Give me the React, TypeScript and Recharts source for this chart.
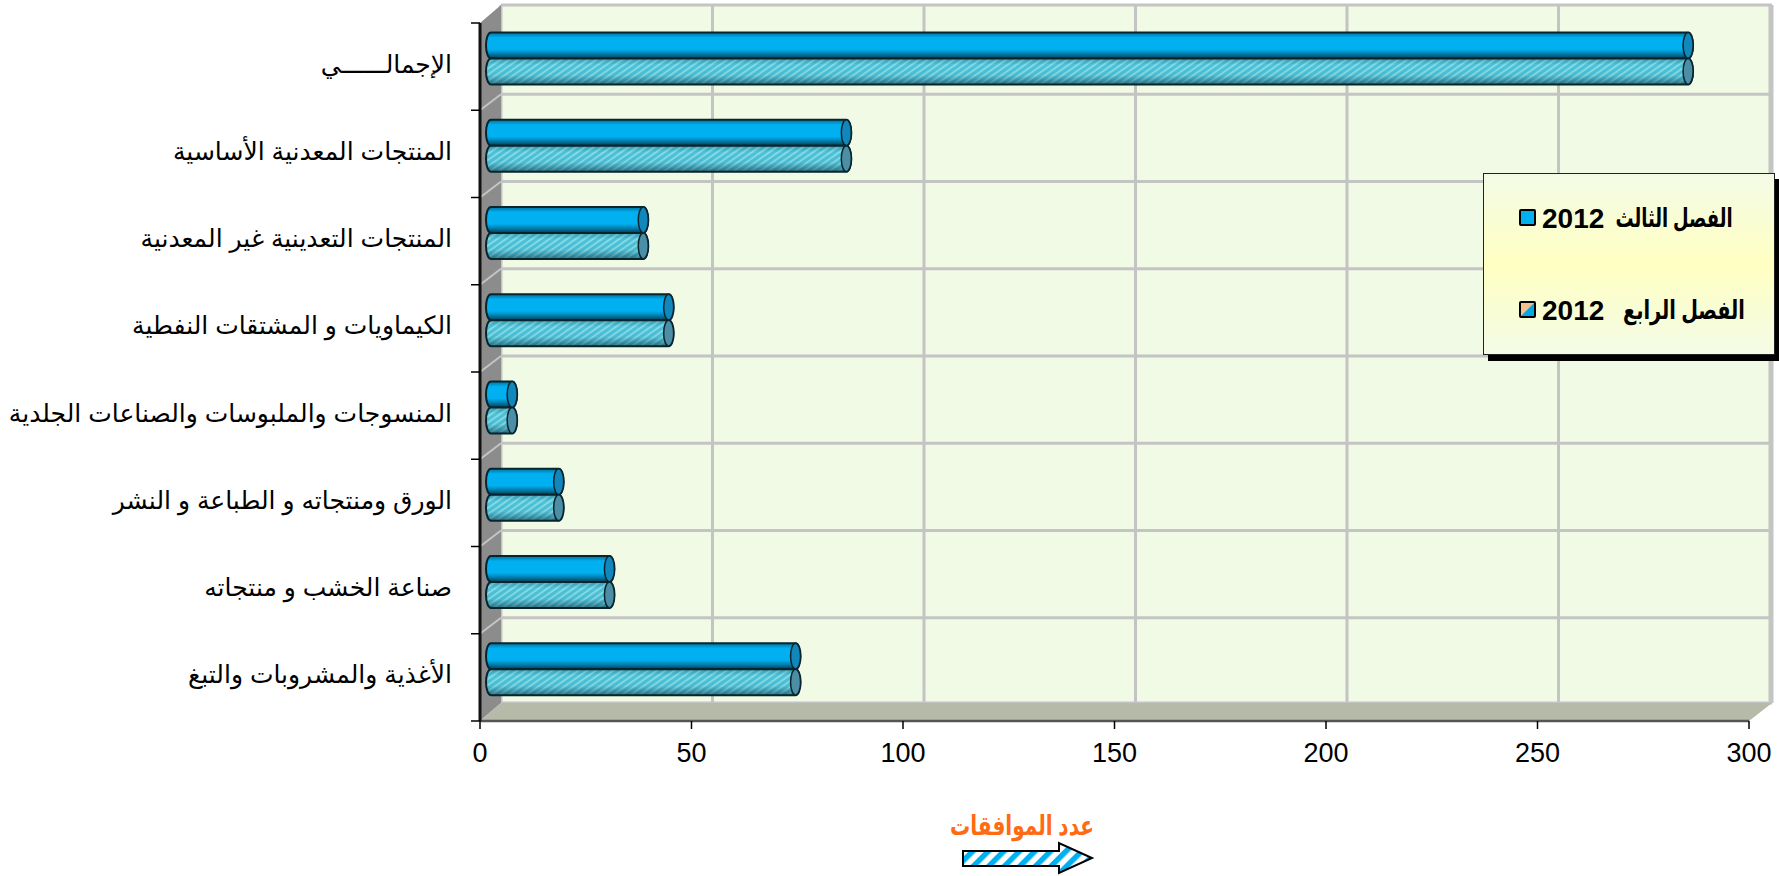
import React from "react";
import { BarChart, Bar, XAxis, YAxis, CartesianGrid, Legend } from "recharts";

const categories = [
  "الإجمالــــــي",
  "المنتجات المعدنية الأساسية",
  "المنتجات التعدينية غير المعدنية",
  "الكيماويات و المشتقات النفطية",
  "المنسوجات والملبوسات والصناعات الجلدية",
  "الورق ومنتجاته و الطباعة و النشر",
  "صناعة الخشب و منتجاته",
  "الأغذية والمشروبات والتبغ",
];
const q3Values = [283, 84, 36, 42, 5, 16, 28, 72];
const q4Values = [283, 84, 36, 42, 5, 16, 28, 72];
const xTicks = [0, 50, 100, 150, 200, 250, 300];
const q3Season = "الفصل الثالث";
const q4Season = "الفصل الرابع";
const year = "2012";
const axisTitle = "عدد الموافقات";

const data = categories.map((name, i) => ({ name, q3: q3Values[i], q4: q4Values[i] }));

// plot frame and 3d depth
const W = 1779;
const H = 876;
const LEFT = 480;
const TOP = 23;
const RIGHT = 1749;
const BOTTOM = 721;
const DX = 21;
const DY = -18;
const BAND = (BOTTOM - TOP) / categories.length;
const boundaries = categories.map((_, i) => TOP + BAND * i);

const FONT = "'Liberation Sans', Arial, 'DejaVu Sans', sans-serif";

function Cylinder(props: any) {
  const { x, y, width, height, hatched } = props;
  const x0 = x + 11;
  const x1 = x0 + width;
  const top = y - 8.6;
  const rx = 5;
  const d = `M${x0},${top} L${x1},${top} A${rx},${height / 2} 0 0 1 ${x1},${top + height} L${x0},${top + height} A${rx},${height / 2} 0 0 1 ${x0},${top} Z`;
  return (
    <g>
      <path d={d} fill={hatched ? "url(#hatch)" : "#00b0f0"} />
      <path d={d} fill={hatched ? "url(#shadeHatch)" : "url(#shade)"} stroke="#08252e" strokeWidth={2} />
      <ellipse
        cx={x1}
        cy={top + height / 2}
        rx={rx}
        ry={height / 2}
        fill={hatched ? "#4c8ea6" : "#1187bb"}
        stroke="#08252e"
        strokeWidth={1.5}
      />
    </g>
  );
}

function CategoryTick(props: any) {
  const { y, payload, index } = props;
  const isLast = index === categories.length - 1;
  return (
    <g>
      <line x1={471} x2={LEFT} y1={y - BAND / 2} y2={y - BAND / 2} stroke="#000" strokeWidth={1.5} />
      {isLast && <line x1={471} x2={LEFT} y1={y + BAND / 2} y2={y + BAND / 2} stroke="#000" strokeWidth={1.5} />}
      <text x={452} y={y - 3} textAnchor="end" dominantBaseline="central" fontSize={25} fontFamily={FONT} fill="#000">
        {payload.value}
      </text>
    </g>
  );
}

function AxisTitle() {
  // DejaVu's arabic runs wider than the original face, so squeeze it to the original width
  return (
    <text
      x={1022}
      y={826}
      textAnchor="middle"
      dominantBaseline="central"
      fontSize={27}
      fontWeight={700}
      fontFamily={FONT}
      fill="#ff6a13"
      textLength={144}
      lengthAdjust="spacingAndGlyphs"
    >
      {axisTitle}
    </text>
  );
}

function Swatch({ hatched }: { hatched?: boolean }) {
  return (
    <span
      style={{
        display: "inline-block",
        width: 13,
        height: 13,
        border: "2.5px solid #000",
        borderRadius: 2,
        background: hatched ? "linear-gradient(135deg, #f4c08e 48%, #00a8e8 52%)" : "#00b0f0",
      }}
    />
  );
}

function LegendRow({ season, top, hatched, seasonCenter, squeeze }: any) {
  return (
    <div style={{ position: "absolute", left: 35, top, height: 36, width: 250 }}>
      <div style={{ position: "absolute", left: 0, top: 8 }}>
        <Swatch hatched={hatched} />
      </div>
      <span style={{ position: "absolute", left: 23, top: 2, fontFamily: FONT, fontWeight: 700, fontSize: 28, color: "#000" }}>
        {year}
      </span>
      <span
        style={{
          position: "absolute",
          left: seasonCenter,
          top: 2,
          transform: `translateX(-50%) scaleX(${squeeze})`,
          whiteSpace: "nowrap",
          fontFamily: FONT,
          fontWeight: 700,
          fontSize: 26,
          color: "#000",
        }}
      >
        {season}
      </span>
    </div>
  );
}

function LegendBox() {
  return (
    <div
      style={{
        position: "relative",
        width: 292,
        height: 182,
        boxSizing: "border-box",
        border: "1px solid #222",
        boxShadow: "5px 6px 0 #000",
        background: "linear-gradient(180deg, #f3fbe6 0%, #ffffc2 50%, #f3fbe6 100%)",
      }}
    >
      <LegendRow season={q3Season} top={27} seasonCenter={155} squeeze={0.69} />
      <LegendRow season={q4Season} top={119} hatched seasonCenter={165} squeeze={0.74} />
    </div>
  );
}

export default function App() {
  return (
    <div style={{ position: "absolute", left: 0, top: 0, width: W, height: H, background: "#fff" }}>
      <BarChart
        width={W}
        height={H}
        data={data}
        layout="vertical"
        barSize={26}
        barGap={0}
        margin={{ top: TOP, right: W - RIGHT, left: 0, bottom: H - BOTTOM - 60 }}
      >
        <defs>
          <linearGradient id="shade" x1="0" y1="0" x2="0" y2="1">
            <stop offset="0%" stopColor="#003a52" stopOpacity={0.55} />
            <stop offset="20%" stopColor="#003a52" stopOpacity={0} />
            <stop offset="65%" stopColor="#003a52" stopOpacity={0} />
            <stop offset="100%" stopColor="#00222f" stopOpacity={0.8} />
          </linearGradient>
          <linearGradient id="shadeHatch" x1="0" y1="0" x2="0" y2="1">
            <stop offset="0%" stopColor="#003a52" stopOpacity={0.3} />
            <stop offset="25%" stopColor="#003a52" stopOpacity={0} />
            <stop offset="65%" stopColor="#003a52" stopOpacity={0.05} />
            <stop offset="100%" stopColor="#00222f" stopOpacity={0.55} />
          </linearGradient>
          <pattern id="hatch" width={5} height={5} patternUnits="userSpaceOnUse" patternTransform="rotate(-35)">
            <rect width={5} height={5} fill="#4cc2d8" />
            <rect width={5} height={2} fill="#86dbe6" />
          </pattern>
          <pattern id="arrowHatch" width={11} height={11} patternUnits="userSpaceOnUse" patternTransform="rotate(45)">
            <rect width={11} height={11} fill="#fff" />
            <rect width={5.5} height={11} fill="#00b0f0" />
          </pattern>
        </defs>

        {/* side wall and floor, the back wall comes from the grid's fill */}
        <polygon
          points={`${LEFT},${TOP} ${LEFT + DX},${TOP + DY} ${LEFT + DX},${BOTTOM + DY} ${LEFT},${BOTTOM}`}
          fill="#8c8c8c"
        />
        <polygon
          points={`${LEFT},${BOTTOM} ${LEFT + DX},${BOTTOM + DY} ${RIGHT + DX + 2},${BOTTOM + DY} ${RIGHT},${BOTTOM}`}
          fill="#b6baa8"
        />
        {boundaries.slice(1).map((yy) => (
          <line key={yy} x1={LEFT} y1={yy} x2={LEFT + DX} y2={yy + DY + 2} stroke="#c4c4c4" strokeWidth={2} />
        ))}

        <CartesianGrid
          x={LEFT + DX}
          y={TOP + DY}
          width={RIGHT - LEFT + 2}
          height={BOTTOM - TOP}
          fill="#f1fae5"
          stroke="#c4c4c4"
          strokeWidth={3}
          horizontalCoordinatesGenerator={() => [TOP + DY, ...boundaries.slice(1).map((b) => b + DY + 2), BOTTOM + DY]}
          verticalCoordinatesGenerator={() =>
            xTicks.map((t) => LEFT + DX + ((RIGHT - LEFT) * t) / 300).concat(RIGHT + DX + 2)
          }
        />

        <XAxis
          type="number"
          domain={[0, 300]}
          ticks={xTicks}
          height={60}
          tickSize={8}
          tickMargin={14}
          interval={0}
          axisLine={{ stroke: "#555", strokeWidth: 2.5 }}
          tickLine={{ stroke: "#000", strokeWidth: 1.5 }}
          tick={{ fontSize: 27, fill: "#000", fontFamily: FONT }}
        />
        <YAxis
          type="category"
          dataKey="name"
          width={LEFT}
          interval={0}
          tickLine={false}
          axisLine={{ stroke: "#111", strokeWidth: 3 }}
          tick={<CategoryTick />}
        />

        <Bar dataKey="q3" name={`${q3Season} ${year}`} isAnimationActive={false} shape={<Cylinder />} />
        <Bar dataKey="q4" name={`${q4Season} ${year}`} isAnimationActive={false} shape={<Cylinder hatched />} />

        <AxisTitle />
        {/* arrow under the axis title */}
        <path
          d="M963,851 L1059,851 L1059,843 L1092,858 L1059,873 L1059,866 L963,866 Z"
          fill="url(#arrowHatch)"
          stroke="#000"
          strokeWidth={2}
        />

        <Legend
          layout="vertical"
          align="center"
          verticalAlign="middle"
          wrapperStyle={{ position: "absolute", left: 1483, top: 173, width: 292, height: 182 }}
          content={() => <LegendBox />}
        />
      </BarChart>
    </div>
  );
}
